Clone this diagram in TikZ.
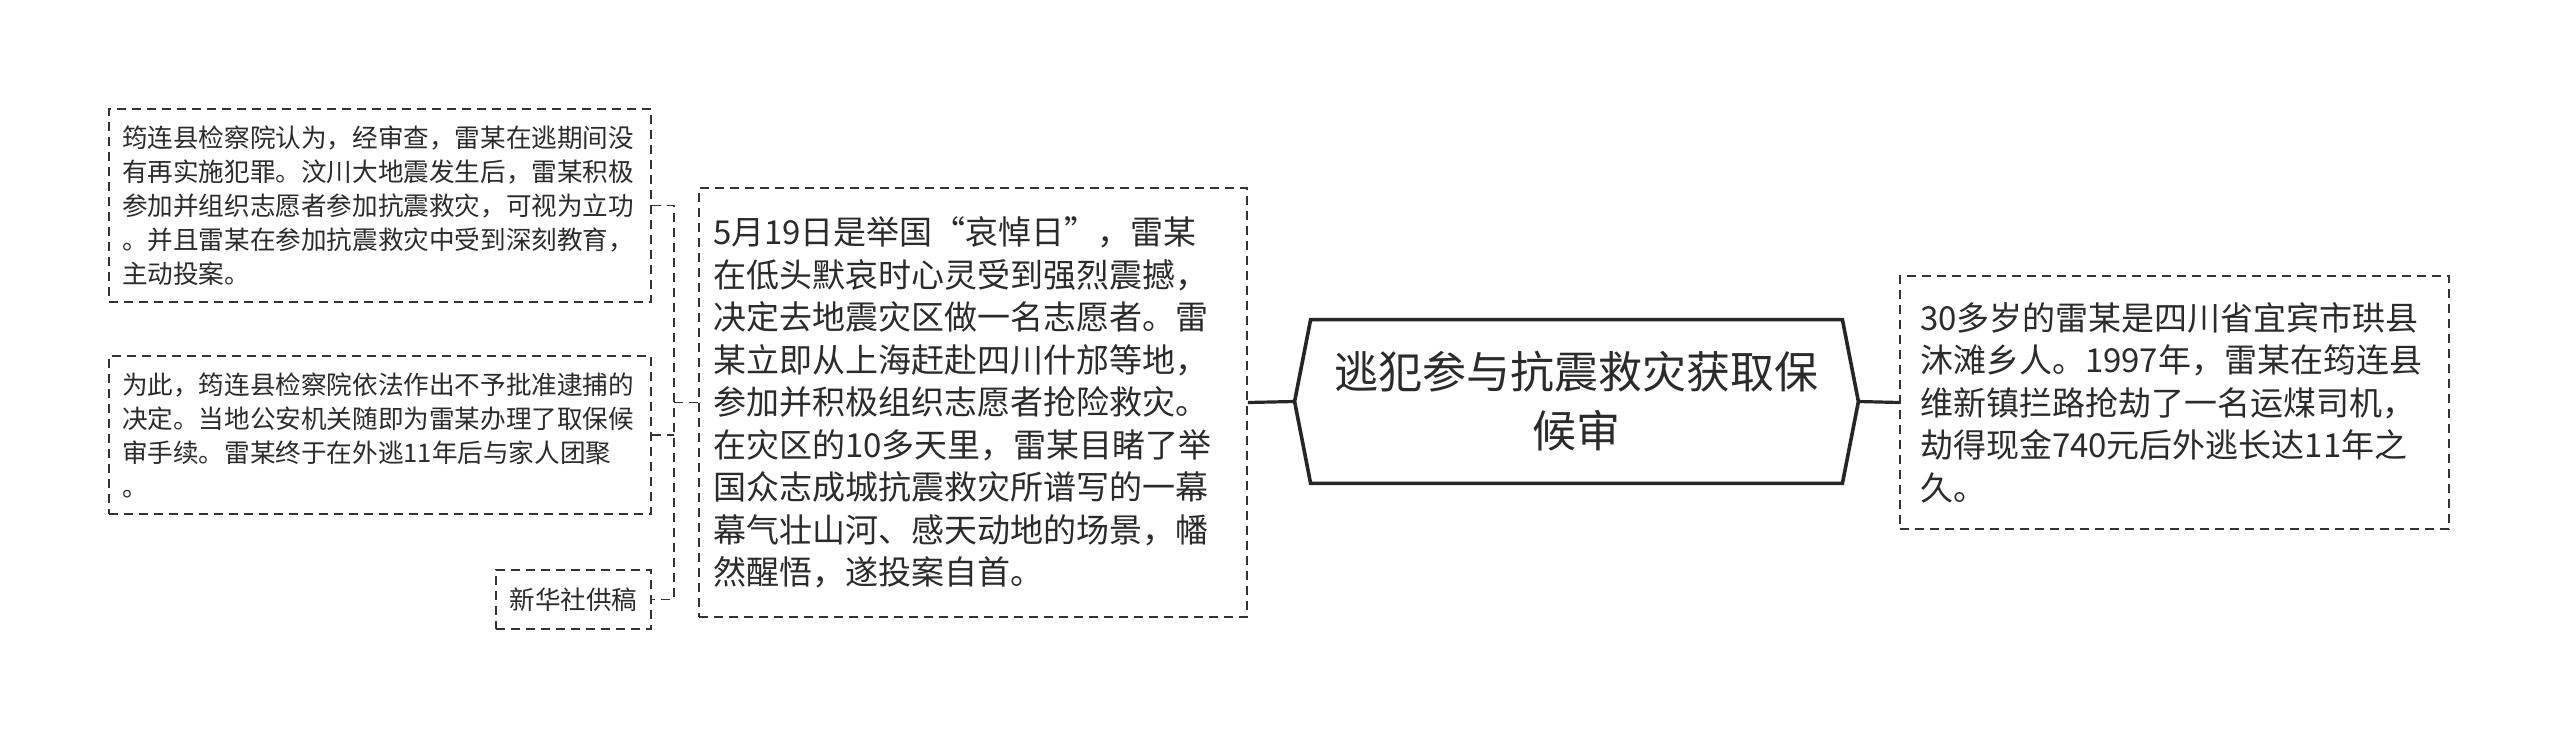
\documentclass[tikz,border=0pt]{standalone}
\usepackage{fontspec}
\setmainfont{Noto Sans CJK SC}
\definecolor{txt}{HTML}{2B2B2B}
\definecolor{edge}{HTML}{333333}
\begin{document}
\begin{tikzpicture}[x=0.5pt,y=-0.5pt,
  leaf/.style={draw=edge, line width=0.9pt, dash pattern=on 4.5pt off 3pt, text=txt, align=left, inner ysep=0pt},
  small/.style={leaf, font=\fontsize{12.8pt}{17pt}\selectfont},
  big/.style={leaf, font=\fontsize{16.5pt}{21.25pt}\selectfont},
  conn/.style={draw=edge, line width=0.9pt, dash pattern=on 4.5pt off 3pt},
  solidconn/.style={draw=black!85, line width=1.6pt},
  hexline/.style={draw=black!85, line width=1.8pt, line join=miter}
]
\useasboundingbox (0,0) rectangle (2560,739);
\fill[white] (0,0) rectangle (2560,739);

\node[small, minimum width=271pt, minimum height=96.5pt, text width=258pt, inner xsep=6.5pt] (b1) at (380,205.5)
{筠连县检察院认为，经审查，雷某在逃期间没\\有再实施犯罪。汶川大地震发生后，雷某积极\\参加并组织志愿者参加抗震救灾，可视为立功\\。并且雷某在参加抗震救灾中受到深刻教育，\\主动投案。};

\node[small, minimum width=271pt, minimum height=79pt, text width=258pt, inner xsep=6.5pt] (b2) at (380,435)
{为此，筠连县检察院依法作出不予批准逮捕的\\决定。当地公安机关随即为雷某办理了取保候\\审手续。雷某终于在外逃11年后与家人团聚\\。};

\node[small, minimum width=77.5pt, minimum height=29.5pt, inner xsep=0pt] (b3) at (573.5,599.5) {新华社供稿};

\node[big, minimum width=274pt, minimum height=214.5pt, text width=260pt, inner xsep=7pt] (b4) at (973,402.5)
{5月19日是举国“哀悼日”，雷某\\在低头默哀时心灵受到强烈震撼，\\决定去地震灾区做一名志愿者。雷\\某立即从上海赶赴四川什邡等地，\\参加并积极组织志愿者抢险救灾。\\在灾区的10多天里，雷某目睹了举\\国众志成城抗震救灾所谱写的一幕\\幕气壮山河、感天动地的场景，幡\\然醒悟，遂投案自首。};

\node[minimum width=281.5pt, minimum height=81.5pt, inner sep=0pt, text=txt, align=center,
  font=\fontsize{22pt}{29.5pt}\selectfont] (c) at (1576.5,401.5)
{逃犯参与抗震救灾获取保\\候审};
\draw[hexline] (c.west) -- ([xshift=8pt]c.north west) -- ([xshift=-8pt]c.north east) -- (c.east)
  -- ([xshift=-8pt]c.south east) -- ([xshift=8pt]c.south west) -- cycle;

\node[big, minimum width=274.5pt, minimum height=126.5pt, text width=254.5pt, inner xsep=10pt] (b5) at (2174.5,402.5)
{30多岁的雷某是四川省宜宾市珙县\\沐滩乡人。1997年，雷某在筠连县\\维新镇拦路抢劫了一名运煤司机，\\劫得现金740元后外逃长达11年之\\久。};

\coordinate (j) at (674,402.5);
\draw[solidconn] (c.west) -- (b4.east);
\draw[solidconn] (c.east) -- (b5.west);
\draw[conn] (b4.west) -- (j);
\draw[conn] (b1.east) -- (b1.east -| j) -- (b3.east -| j) -- (b3.east);
\draw[conn] (b2.east) -- (b2.east -| j);
\end{tikzpicture}
\end{document}
